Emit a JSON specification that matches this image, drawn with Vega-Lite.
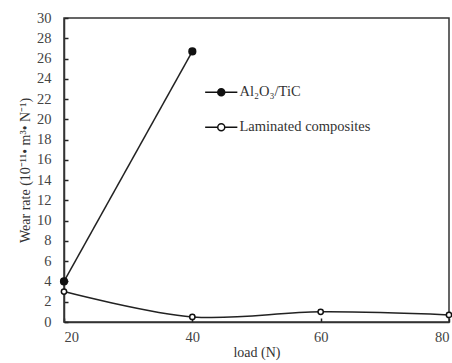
{
  "$schema": "https://vega.github.io/schema/vega-lite/v6.json",
  "width": 385,
  "height": 304,
  "autosize": {"type": "none"},
  "padding": {"left": 64, "top": 18, "right": 3, "bottom": 41},
  "background": "white",
  "config": {
    "view": {"stroke": "#333", "strokeWidth": 1.5},
    "font": "Liberation Serif",
    "axis": {"labelFont": "Liberation Serif", "titleFont": "Liberation Serif", "labelColor": "#444", "titleColor": "#333", "labelFontSize": 14.5, "titleFontSize": 14, "titleFontWeight": "normal", "grid": false, "domainColor": "#333", "domainWidth": 1.5, "tickColor": "#222", "tickWidth": 1.5}
  },
  "data": {
    "values": [
      {"load": 20, "wear": 4.0, "series": "Al₂O₃/TiC"},
      {"load": 40, "wear": 26.7, "series": "Al₂O₃/TiC"},
      {"load": 20, "wear": 3.0, "series": "Laminated composites"},
      {"load": 40, "wear": 0.5, "series": "Laminated composites"},
      {"load": 60, "wear": 1.0, "series": "Laminated composites"},
      {"load": 80, "wear": 0.7, "series": "Laminated composites"}
    ]
  },
  "encoding": {
    "x": {"field": "load", "type": "quantitative", "scale": {"domain": [20, 80], "nice": false},
      "axis": {"values": [20, 40, 60, 80], "title": "load (N)", "tickSize": -4, "labelPadding": 12, "titlePadding": 2}},
    "y": {"field": "wear", "type": "quantitative", "scale": {"domain": [0, 30], "nice": false},
      "axis": {"values": [0,2,4,6,8,10,12,14,16,18,20,22,24,26,28,30], "title": "Wear rate (10⁻¹¹• m³• N⁻¹)", "tickSize": -4, "labelPadding": 17, "titlePadding": 4}},
    "fill": {"field": "series", "type": "nominal",
      "scale": {"domain": ["Al₂O₃/TiC", "Laminated composites"], "range": ["#111", "white"]},
      "legend": {"orient": "none", "legendX": 150, "legendY": 67, "title": null, "symbolType": "M-4.6,0H-1A1,1 0 1,1 1,0A1,1 0 1,1 -1,0M1,0H4.6", "symbolSize": 49, "symbolStrokeColor": "#111", "symbolStrokeWidth": 1.5, "labelFont": "Liberation Serif", "labelFontSize": 14.5, "labelColor": "#333", "labelOffset": 11, "rowPadding": 20}}
  },
  "layer": [
    {"mark": {"type": "line", "interpolate": "catmull-rom", "color": "#222", "strokeWidth": 1.5},
     "encoding": {"detail": {"field": "series"}, "fill": null}},
    {"transform": [{"filter": "datum.series === 'Al₂O₃/TiC'"}],
     "mark": {"type": "point", "filled": false, "stroke": "#111", "strokeWidth": 1.5, "size": 45, "opacity": 1}},
    {"transform": [{"filter": "datum.series === 'Laminated composites'"}],
     "mark": {"type": "point", "filled": false, "stroke": "#111", "strokeWidth": 1.5, "size": 28, "opacity": 1}}
  ]
}
